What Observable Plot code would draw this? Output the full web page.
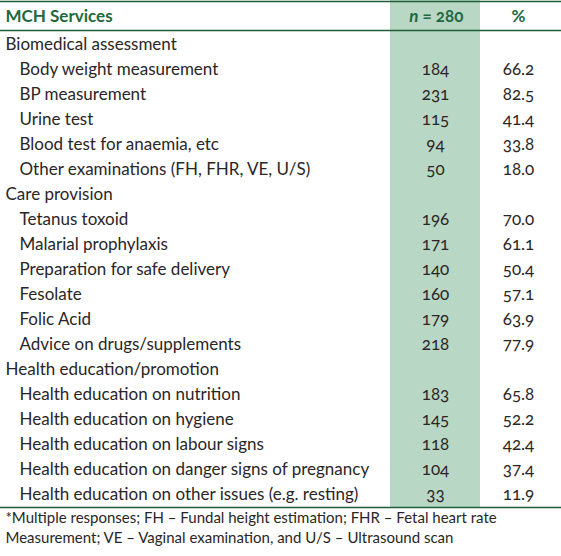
<!DOCTYPE html>
<html>
<head>
<meta charset="utf-8">
<script src="https://cdn.jsdelivr.net/npm/d3@7"></script>
<script src="https://cdn.jsdelivr.net/npm/@observablehq/plot@0.6"></script>
<style>
  html, body { margin: 0; padding: 0; background: #fff; }
  svg text { font-variant-numeric: oldstyle-nums; font-feature-settings: "onum"; }
</style>
</head>
<body>
<div id="chart"></div>
<script>
// ---- data ----
const headerLabel = "MCH Services";
const headerN = "= 280";
const headerPct = "%";
const labels = [
  "Biomedical assessment",
  "Body weight measurement",
  "BP measurement",
  "Urine test",
  "Blood test for anaemia, etc",
  "Other examinations (FH, FHR, VE, U/S)",
  "Care provision",
  "Tetanus toxoid",
  "Malarial prophylaxis",
  "Preparation for safe delivery",
  "Fesolate",
  "Folic Acid",
  "Advice on drugs/supplements",
  "Health education/promotion",
  "Health education on nutrition",
  "Health education on hygiene",
  "Health education on labour signs",
  "Health education on danger signs of pregnancy",
  "Health education on other issues (e.g. resting)"
];
const isGroup = [true,false,false,false,false,false,true,false,false,false,false,false,false,true,false,false,false,false,false];
const counts = [null,184,231,115,94,50,null,196,171,140,160,179,218,null,183,145,118,104,33];
const percents = ["","66.2","82.5","41.4","33.8","18.0","","70.0","61.1","50.4","57.1","63.9","77.9","","65.8","52.2","42.4","37.4","11.9"];
const footnotes = [
  "*Multiple responses; FH – Fundal height estimation; FHR – Fetal heart rate",
  "Measurement; VE – Vaginal examination, and U/S – Ultrasound scan"
];

// ---- layout ----
const W = 561, H = 556;
const rowY = i => 49 + 25 * i;          // baseline of body row i
const headerY = 21;
const colLabelGroup = 5, colLabelItem = 19, colN = 435, colPct = 518;
const shadeX1 = 390, shadeX2 = 480;
const green = "#1f5e37", headGreen = "#22683f", shade = "#b9d7c5", ink = "#2a2627";
const font = "Lato, 'Open Sans', sans-serif";
const fs = 17;

const rows = labels.map((l, i) => ({
  label: l, group: isGroup[i], n: counts[i], pct: percents[i], y: rowY(i),
  x: isGroup[i] ? colLabelGroup : colLabelItem
}));
const valueRows = rows.filter(d => d.n != null);

const plot = Plot.plot({
  width: W, height: H,
  margin: 0,
  x: {domain: [0, W], range: [0, W], axis: null},
  y: {domain: [0, H], range: [0, H], axis: null},
  style: {fontFamily: font, background: "#fff"},
  marks: [
    Plot.rect([0], {x1: shadeX1, x2: shadeX2, y1: 0, y2: 507, fill: shade}),
    Plot.ruleY([1, 30, 507], {y: d => d, x1: 0, x2: W, stroke: green, strokeWidth: 1.5}),
    // header
    Plot.text([headerLabel], {x: colLabelGroup, y: headerY, text: d => d, textAnchor: "start", lineAnchor: "bottom", fontSize: fs, fontWeight: "bold", fill: headGreen}),
    Plot.text(["n"], {x: 418, y: headerY, text: d => d, textAnchor: "end", lineAnchor: "bottom", fontSize: fs, fontWeight: "bold", fontStyle: "italic", fill: headGreen}),
    Plot.text([headerN], {x: 422, y: headerY, text: d => d, textAnchor: "start", lineAnchor: "bottom", fontSize: fs, fontWeight: "bold", fill: headGreen}),
    Plot.text([headerPct], {x: colPct, y: headerY, text: d => d, textAnchor: "middle", lineAnchor: "bottom", fontSize: fs, fontWeight: "bold", fill: headGreen}),
    // body
    Plot.text(rows, {x: "x", y: "y", text: "label", textAnchor: "start", lineAnchor: "bottom", fontSize: fs, fill: ink}),
    Plot.text(valueRows, {x: colN, y: "y", text: d => String(d.n), textAnchor: "middle", lineAnchor: "bottom", fontSize: fs, fill: ink}),
    Plot.text(valueRows, {x: colPct, y: "y", text: "pct", textAnchor: "middle", lineAnchor: "bottom", fontSize: fs, fill: ink}),
    // footnotes
    Plot.text(footnotes, {x: 5, y: (d, i) => 522 + 20 * i, text: d => d, textAnchor: "start", lineAnchor: "bottom", fontSize: 15, fill: ink})
  ]
});
document.getElementById("chart").appendChild(plot);
</script>
</body>
</html>
